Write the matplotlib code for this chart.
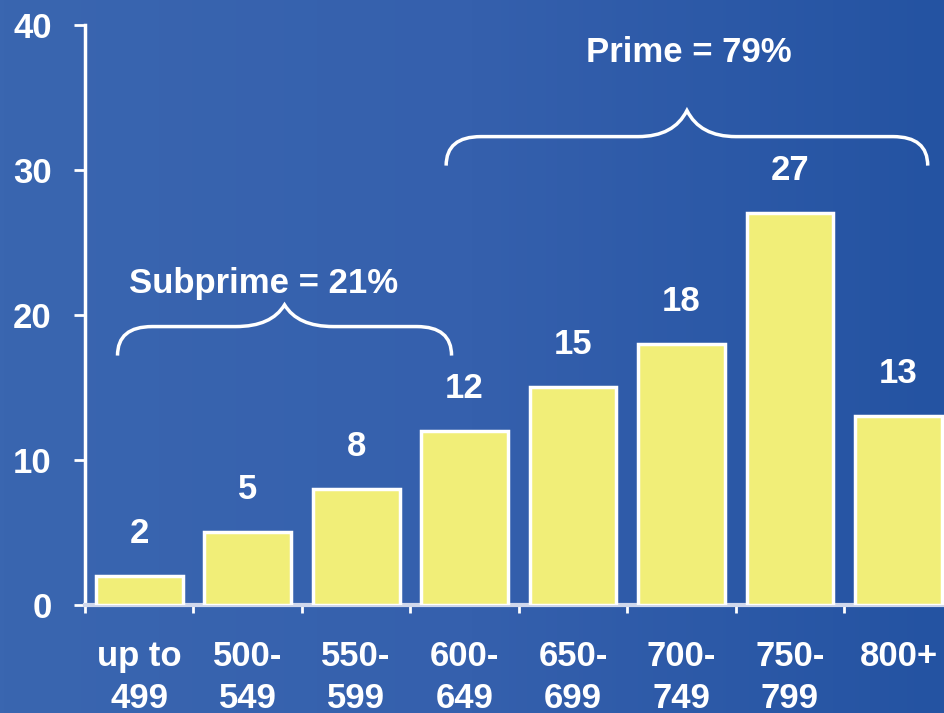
import numpy as np
import matplotlib
matplotlib.use('Agg')
import matplotlib.pyplot as plt
from matplotlib.path import Path
from matplotlib.patches import PathPatch
from matplotlib.colors import LinearSegmentedColormap

# data
categories = ['up to\n499', '500-\n549', '550-\n599', '600-\n649', '650-\n699', '700-\n749', '750-\n799', '800+']
shares = [2, 5, 8, 12, 15, 18, 27, 13]
groups = ['Subprime = 21%', 'Prime = 79%']

plt.rcParams['font.family'] = ['Liberation Sans', 'DejaVu Sans']
plt.rcParams['font.weight'] = 'bold'
FS = 25

fig = plt.figure(figsize=(9.44, 7.13), dpi=100)

# background gradient
bg = fig.add_axes([0, 0, 1, 1], zorder=-10)
grad = np.linspace(0, 1, 256).reshape(1, -1)
cmap = LinearSegmentedColormap.from_list('bg', ['#3A66B0', '#3560AD', '#2453A2'])
bg.imshow(grad, aspect='auto', cmap=cmap, extent=[0, 1, 0, 1])
bg.axis('off')

ax = fig.add_axes([0.09, 0.1515, 0.91, 0.8135])
ax.patch.set_alpha(0)

x = np.arange(len(categories))
ax.bar(x, shares, width=0.8, color='#F1EE78', edgecolor='white', linewidth=2.5, zorder=3)

for xi, v in zip(x, shares):
    ax.annotate(str(v), (xi, v), xytext=(0, 19), textcoords='offset points',
                ha='center', va='bottom', color='white', fontsize=FS, fontweight='bold')

ax.set_yticks([0, 10, 20, 30, 40])
ax.set_xticks(x)
ax.set_xticklabels(categories, linespacing=1.35)
ax.set_xticks(np.arange(-0.5, 7.0, 1), minor=True)
# limits after ticks, set_xticks widens the view otherwise
ax.set_xlim(-0.5, 7.42)
ax.set_ylim(0, 40)

for s in ['top', 'right']:
    ax.spines[s].set_visible(False)
ax.spines['left'].set_color('white')
ax.spines['left'].set_linewidth(2.5)
ax.spines['bottom'].set_color('#D0D8EC')
ax.spines['bottom'].set_linewidth(3)

ax.tick_params(axis='y', colors='white', length=8, width=2, pad=16, labelsize=FS)
ax.tick_params(axis='x', which='major', length=0, pad=25, colors='white', labelsize=FS)
ax.tick_params(axis='x', which='minor', length=6, width=2, color='white', direction='out')


def brace(x0, x1, yl, yend, ypeak, dx=0.32, dm=0.45):
    xm = (x0 + x1) / 2
    verts = [(x0, yend), (x0, yl), (x0 + dx, yl),
             (xm - dm, yl),
             (xm - 0.12, yl), (xm, ypeak),
             (xm + 0.12, yl), (xm + dm, yl),
             (x1 - dx, yl),
             (x1, yl), (x1, yend)]
    codes = [Path.MOVETO, Path.CURVE3, Path.CURVE3,
             Path.LINETO,
             Path.CURVE3, Path.CURVE3,
             Path.CURVE3, Path.CURVE3,
             Path.LINETO,
             Path.CURVE3, Path.CURVE3]
    ax.add_patch(PathPatch(Path(verts, codes), fill=False, edgecolor='white',
                           linewidth=2.5, clip_on=False, zorder=4))


brace(-0.2, 2.88, 19.2, 17.2, 20.7)
ax.text(1.15, 22.2, groups[0], ha='center', va='center', color='white',
        fontsize=FS, fontweight='bold')
brace(2.83, 7.27, 32.3, 30.3, 34.1)
ax.text(5.07, 38.1, groups[1], ha='center', va='center', color='white',
        fontsize=FS, fontweight='bold')

fig.savefig('out.png', dpi=100)
